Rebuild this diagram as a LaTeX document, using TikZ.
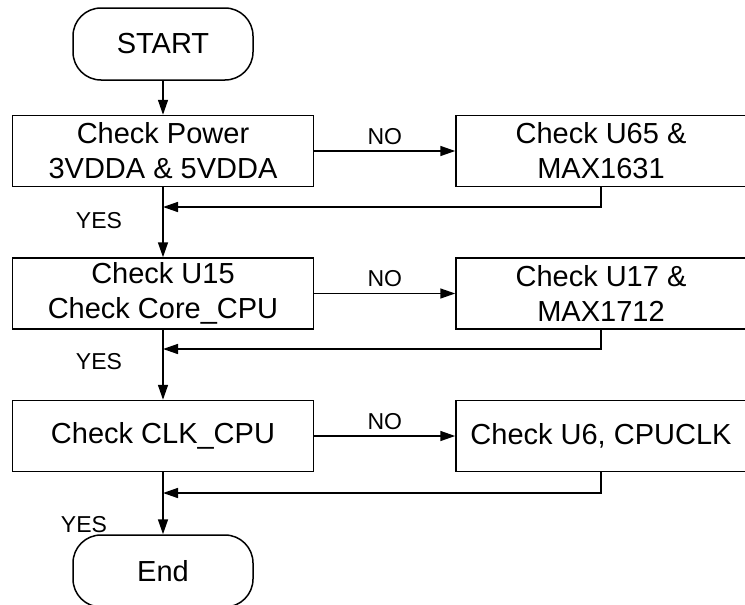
\documentclass[tikz,border=0pt]{standalone}
\usepackage{fontspec}
\setmainfont{Liberation Sans}
\usetikzlibrary{arrows.meta}

\begin{document}
\begin{tikzpicture}
    [x=1pt,y=-1pt,->,>={Triangle[length=15pt,width=10pt]},line width=1.5pt,
     every node/.style={draw,rectangle,minimum width=301pt,minimum height=71pt,align=center,
       font=\fontsize{29}{35}\selectfont},
     term/.style={minimum width=180pt,minimum height=72pt,rounded corners=28pt},
     side/.style={minimum width=290pt},
     lbl/.style={draw=none,minimum width=0pt,minimum height=0pt,inner sep=0pt,
       font=\fontsize{23}{23}\selectfont}]
    \useasboundingbox (0,0) rectangle (745,605);
    \clip (0,0) rectangle (745,605);

    \node[term] (start) at (163,44) {START};
    \node (pwr) at (163,151) {Check Power\\3VDDA \& 5VDDA};
    \node (core) at (163,293.5) {Check U15\\Check Core\_CPU};
    \node (clk) at (163,436) {Check CLK\_CPU};
    \node[term] (end) at (163,571) {End};

    \node[side] (fixpwr) at (601,151) {Check U65 \&\\MAX1631};
    \node[side] (fixcore) at (601,293.5) {Check U17 \&\\MAX1712};
    \node[side] (fixclk) at (601,436) {Check U6, CPUCLK};

    \coordinate (jpwr) at (163,207);
    \coordinate (jcore) at (163,349);
    \coordinate (jclk) at (163,493);

    \path (start) edge (pwr);
    \path (pwr) edge (core);
    \path (core) edge (clk);
    \path (clk) edge (end);

    \path (pwr) edge node[lbl,above=6pt] {NO} (fixpwr);
    \path (core) edge node[lbl,above=6pt] {NO} (fixcore);
    \path (clk) edge node[lbl,above=6pt] {NO} (fixclk);

    \draw (fixpwr.south) |- (jpwr);
    \draw (fixcore.south) |- (jcore);
    \draw (fixclk.south) |- (jclk);

    \node[lbl] (yespwr) at (99,221) {YES};
    \node[lbl] (yescore) at (99,362) {YES};
    \node[lbl] (yesclk) at (84,525) {YES};
  \end{tikzpicture}
\end{document}
